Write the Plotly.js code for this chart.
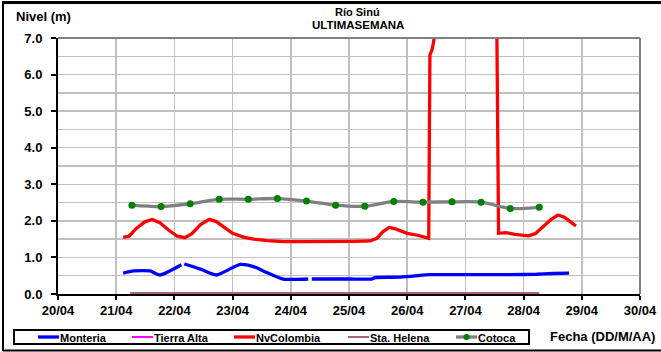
<!DOCTYPE html>
<html>
<head>
<meta charset="utf-8">
<script src="https://cdn.plot.ly/plotly-3.0.1.min.js"></script>
<style>html,body{margin:0;padding:0;background:#fff;}#chart{width:661px;height:352px;}</style>
</head>
<body>
<div id="chart"></div>
<script>
// Days of April (decimal) and levels (m)
const tickDays = [20,21,22,23,24,25,26,27,28,29,30];
const tickLabels = ['20/04','21/04','22/04','23/04','24/04','25/04','26/04','27/04','28/04','29/04','30/04'];

const seriesNames = ['Monteria','Tierra Alta','NvColombia','Sta. Helena','Cotoca'];
const seriesColors = ['#0000ff','#ff00ff','#ff0000','#a86478','#808080'];
const cotocaMarkerColor = '#008000';

const monteriaX = [21.12,21.3,21.58,21.75,22.12,22.14,22.17,22.45,22.72,23.13,23.36,23.6,23.87,24.3,24.33,24.36,25.0,25.39,25.45,25.85,26.1,26.39,26.8,27.3,27.8,28.22,28.5,28.78];
const monteriaY = [0.57,0.63,0.63,0.52,0.80,null,0.82,0.68,0.52,0.81,0.75,0.58,0.41,0.41,null,0.41,0.41,0.41,0.45,0.46,0.49,0.53,0.53,0.53,0.53,0.54,0.56,0.57];

const tierraX = [null];
const tierraY = [null];

const nvX = [21.12,21.22,21.35,21.5,21.62,21.75,21.9,22.05,22.18,22.3,22.45,22.6,22.72,22.85,23.0,23.2,23.36,23.6,23.87,24.2,24.5,24.7,24.9,25.1,25.36,25.48,25.58,25.69,25.8,26.0,26.2,26.37,26.39,26.43,26.5,26.6,27.45,27.54,27.57,27.7,27.85,28.08,28.2,28.35,28.48,28.59,28.7,28.8,28.9];
const nvY = [1.55,1.58,1.80,1.98,2.04,1.95,1.75,1.58,1.54,1.65,1.90,2.04,1.98,1.82,1.66,1.55,1.50,1.46,1.43,1.43,1.43,1.44,1.42,1.44,1.45,1.52,1.70,1.82,1.78,1.66,1.60,1.52,6.53,6.70,7.30,9.0,9.0,7.30,1.66,1.68,1.63,1.59,1.65,1.85,2.05,2.16,2.10,1.98,1.86];

const helenaX = [21.24,28.27];
const helenaY = [0.0,0.0];

const cotocaX = [21.27,21.77,22.27,22.77,23.27,23.77,24.27,24.77,25.27,25.77,26.27,26.77,27.27,27.77,28.27];
const cotocaY = [2.43,2.39,2.47,2.59,2.59,2.61,2.54,2.43,2.40,2.53,2.51,2.52,2.51,2.34,2.37];

const F = 'Liberation Sans, Arial, sans-serif';

const traces = [
  {name:seriesNames[0], x:monteriaX, y:monteriaY, mode:'lines', connectgaps:false, line:{color:seriesColors[0], width:3.3, shape:'spline', smoothing:0.6}},
  {name:seriesNames[1], x:tierraX, y:tierraY, mode:'lines', line:{color:seriesColors[1], width:2.5}},
  {name:seriesNames[2], x:nvX, y:nvY, mode:'lines', line:{color:seriesColors[2], width:3.3}},
  {name:seriesNames[3], x:helenaX, y:helenaY, mode:'lines', line:{color:seriesColors[3], width:4}},
  {name:seriesNames[4], x:cotocaX, y:cotocaY, mode:'lines+markers', line:{color:seriesColors[4], width:3.3, shape:'spline', smoothing:0.8}, marker:{color:cotocaMarkerColor, size:7}}
];

// pixel -> paper helpers (plot area: x 58..640, y 38..294)
const PX = p => (p - 58) / 582;
const PY = p => (294 - p) / 256;

const shapes = [
  {type:'line', xref:'paper', yref:'paper', x0:0, x1:1, y0:1, y1:1, line:{color:'#808080', width:2}},
  {type:'line', xref:'paper', yref:'paper', x0:1, x1:1, y0:0, y1:1, line:{color:'#808080', width:2}},
  {type:'line', xref:'paper', yref:'paper', x0:PX(3), x1:PX(670), y0:PY(2.5), y1:PY(2.5), line:{color:'#000', width:3}},
  {type:'line', xref:'paper', yref:'paper', x0:PX(3), x1:PX(3), y0:PY(1), y1:PY(351), line:{color:'#000', width:2}},
  {type:'line', xref:'paper', yref:'paper', x0:PX(3), x1:PX(670), y0:PY(350.5), y1:PY(350.5), line:{color:'#000', width:2}},
  // legend box
  {type:'rect', xref:'paper', yref:'paper', x0:PX(14), x1:PX(529), y0:PY(330), y1:PY(344), line:{color:'#000', width:2}, fillcolor:'rgba(0,0,0,0)'}
];
const annotations = [
  {text:'Nivel (m)', xref:'paper', yref:'paper', x:PX(14), y:PY(16), xanchor:'left', yanchor:'middle', showarrow:false, font:{family:F, size:13, weight:'bold'}},
  {text:'Río Sinú', xref:'paper', yref:'paper', x:PX(358), y:PY(11.5), xanchor:'center', yanchor:'middle', showarrow:false, font:{family:F, size:11, weight:'bold'}},
  {text:'ULTIMASEMANA', xref:'paper', yref:'paper', x:PX(358), y:PY(25), xanchor:'center', yanchor:'middle', showarrow:false, font:{family:F, size:11.5, weight:'bold'}},
  {text:'Fecha (DD/M/AA)', xref:'paper', yref:'paper', x:PX(548), y:PY(336), xanchor:'left', yanchor:'middle', showarrow:false, font:{family:F, size:13, weight:'bold'}}
];
// manual legend entries
const legendStarts = [38, 132, 234, 348, 456];
const legendLineLen = 21;
seriesNames.forEach((nm, i) => {
  const x0 = legendStarts[i];
  shapes.push({type:'line', xref:'paper', yref:'paper', x0:PX(x0), x1:PX(x0 + legendLineLen), y0:PY(337), y1:PY(337),
               line:{color:seriesColors[i], width:(i === 1 || i === 3) ? 2 : 3.3}});
  annotations.push({text:nm, xref:'paper', yref:'paper', x:PX(x0 + legendLineLen), y:PY(337.5), xanchor:'left', yanchor:'middle',
                    showarrow:false, font:{family:F, size:11, weight:'bold'}, xshift:-1});
});
const cx = legendStarts[4] + legendLineLen / 2;
shapes.push({type:'circle', xref:'paper', yref:'paper', x0:PX(cx - 3), x1:PX(cx + 3), y0:PY(340), y1:PY(334),
             line:{color:cotocaMarkerColor, width:0}, fillcolor:cotocaMarkerColor});

const layout = {
  width:661, height:352,
  margin:{l:58, r:21, t:38, b:58, autoexpand:false},
  paper_bgcolor:'#ffffff', plot_bgcolor:'#ffffff',
  font:{family:F, size:12, color:'#000'},
  showlegend:false,
  xaxis:{range:[20,30], tickvals:tickDays, ticktext:tickLabels, showgrid:true, gridcolor:'#c0c0c0', gridwidth:1.5,
         zeroline:false, showline:true, linecolor:'#000', linewidth:2, ticks:'outside', ticklen:4, tickcolor:'#000', tickwidth:2,
         layer:'below traces', ticklabelstandoff:-1, tickfont:{family:F, size:13, weight:'bold'}, fixedrange:true},
  yaxis:{range:[0,7], dtick:1, tick0:0, tickformat:'.1f', showgrid:true, gridcolor:'#c0c0c0', gridwidth:1.5,
         minor:{dtick:0.5, showgrid:true, gridcolor:'#c0c0c0', gridwidth:1.5},
         zeroline:false, showline:true, linecolor:'#000', linewidth:2, ticks:'outside', ticklen:5, tickcolor:'#000', tickwidth:2,
         layer:'below traces', ticklabelstandoff:6, tickfont:{family:F, size:13, weight:'bold'}, fixedrange:true},
  shapes:shapes,
  annotations:annotations
};

Plotly.newPlot('chart', traces, layout, {displayModeBar:false, staticPlot:true});
</script>
</body>
</html>
